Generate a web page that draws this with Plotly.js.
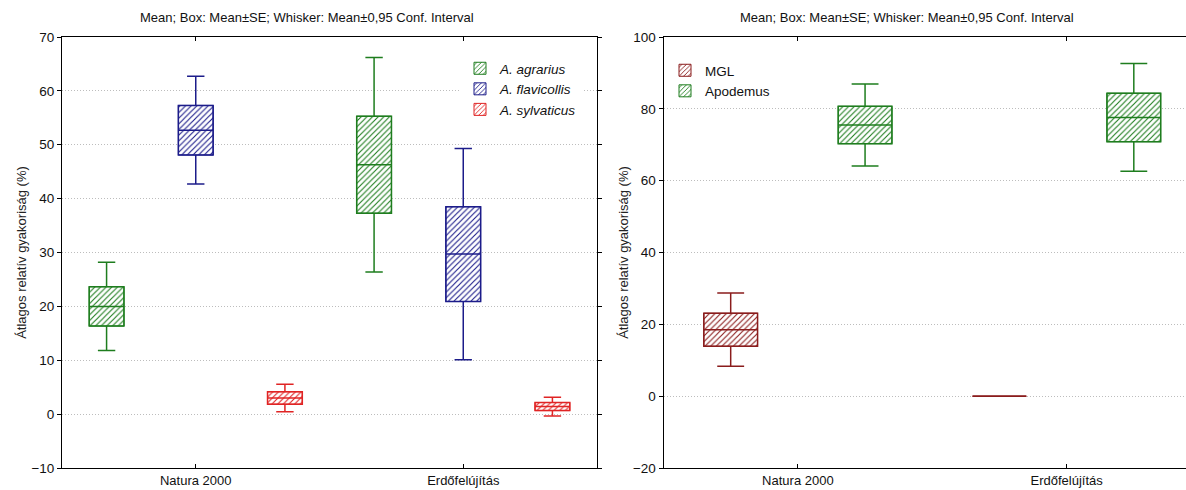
<!DOCTYPE html>
<html>
<head>
<meta charset="utf-8">
<script src="https://cdn.plot.ly/plotly-3.0.1.min.js"></script>
<style>
  html, body { margin: 0; padding: 0; overflow: hidden; background: #fff; }
  #chart { width: 1210px; height: 490px; }
</style>
</head>
<body>
<div id="chart"></div>
<script>
// Categories (sampling habitats)
const categories = ['Natura 2000', 'Erdőfelújítás'];

// Left panel: three Apodemus species — mean, standard error, 95% CI half-width
const agrariusName = '<i>A. agrarius</i>';
const agrariusMean = [20.0, 46.3];
const agrariusSE   = [3.65, 9.0];
const agrariusCI   = [8.2, 19.9];

const flavicollisName = '<i>A. flavicollis</i>';
const flavicollisMean = [52.7, 29.7];
const flavicollisSE   = [4.6, 8.8];
const flavicollisCI   = [10.0, 19.6];

const sylvaticusName = '<i>A. sylvaticus</i>';
const sylvaticusMean = [3.0, 1.4];
const sylvaticusSE   = [1.15, 0.75];
const sylvaticusCI   = [2.55, 1.75];

// Right panel: MGL vs Apodemus
const mglName = 'MGL';
const mglMean = [18.5, 0];
const mglSE   = [4.6, 0];
const mglCI   = [10.2, 0];

const apodemusName = 'Apodemus';
const apodemusMean = [75.5, 77.6];
const apodemusSE   = [5.2, 6.75];
const apodemusCI   = [11.4, 15.0];

const panelTitle = 'Mean; Box: Mean±SE; Whisker: Mean±0,95 Conf. Interval';
const yTitle = 'Átlagos relatív gyakoriság (%)';

const GREEN = '#1e7d1e';
const NAVY  = '#1c1c8a';
const RED   = '#e02424';
const MAROON = '#8a1c1c';
const FONT = 'Liberation Sans, Arial, sans-serif';

// Builds a hatched box (bar) plus whiskers/mean line (box) for one series
function seriesTraces(name, mean, se, ci, color, offset, width, xa, ya, legendId) {
  const x = categories.map((_, i) => i + offset);
  const q1 = mean.map((m, i) => m - se[i]);
  const q3 = mean.map((m, i) => m + se[i]);
  const lo = mean.map((m, i) => m - ci[i]);
  const hi = mean.map((m, i) => m + ci[i]);
  const bar = {
    type: 'bar', name: name, x: x, base: q1, y: q3.map((v, i) => v - q1[i]),
    width: width, xaxis: xa, yaxis: ya, legend: legendId,
    marker: {
      color: '#ffffff',
      pattern: { shape: '/', fgcolor: color, bgcolor: '#ffffff', size: 4, solidity: 0.28, fillmode: 'replace' },
      line: { color: color, width: 1 }
    },
    hoverinfo: 'skip'
  };
  const box = {
    type: 'box', name: name, x: x, q1: q1, median: mean, q3: q3,
    lowerfence: lo, upperfence: hi, width: width, whiskerwidth: 0.5,
    boxpoints: false, fillcolor: 'rgba(0,0,0,0)',
    line: { color: color, width: 1.5 },
    xaxis: xa, yaxis: ya, showlegend: false, hoverinfo: 'skip'
  };
  return [bar, box];
}

const W = 1210;
const data = [].concat(
  seriesTraces(agrariusName, agrariusMean, agrariusSE, agrariusCI, GREEN, -1/3, 0.13, 'x', 'y', 'legend'),
  seriesTraces(flavicollisName, flavicollisMean, flavicollisSE, flavicollisCI, NAVY, 0, 0.13, 'x', 'y', 'legend'),
  seriesTraces(sylvaticusName, sylvaticusMean, sylvaticusSE, sylvaticusCI, RED, 1/3, 0.13, 'x', 'y', 'legend'),
  seriesTraces(mglName, mglMean, mglSE, mglCI, MAROON, -0.25, 0.2, 'x2', 'y2', 'legend2'),
  seriesTraces(apodemusName, apodemusMean, apodemusSE, apodemusCI, GREEN, 0.25, 0.2, 'x2', 'y2', 'legend2')
);

function xAxis(domain, anchor) {
  return {
    domain: domain, anchor: anchor, range: [-0.5, 1.5],
    tickmode: 'array', tickvals: [0, 1], ticktext: categories,
    ticks: 'inside', ticklen: 4, tickcolor: '#000', showgrid: false, zeroline: false,
    showline: true, linecolor: '#000', linewidth: 1, mirror: 'ticks',
    tickfont: { family: FONT, size: 13, color: '#111' }, automargin: false, fixedrange: true
  };
}
function yAxis(range, dtick, anchor) {
  return {
    anchor: anchor, range: range, dtick: dtick, tick0: 0,
    ticks: 'outside', ticklen: 4, tickcolor: '#000',
    showgrid: true, gridcolor: '#bdbdbd', griddash: '1px,2px', gridwidth: 1, zeroline: false,
    showline: true, linecolor: '#000', linewidth: 1, mirror: 'ticks',
    tickfont: { family: FONT, size: 13.5, color: '#111' },
    title: { text: yTitle, font: { family: FONT, size: 13, color: '#222' } },
    automargin: false, fixedrange: true
  };
}

const plotTop = 37, plotH = 431;
const titleY = 1 + (plotTop - 18) / plotH;

const layout = {
  width: W, height: 490,
  margin: { l: 0, r: 0, t: plotTop, b: 490 - plotTop - plotH },
  paper_bgcolor: '#fff', plot_bgcolor: '#fff',
  barmode: 'overlay', boxmode: 'overlay',
  font: { family: FONT, color: '#111' },
  xaxis: xAxis([62 / W, 597 / W], 'y'),
  yaxis: yAxis([-10, 70], 10, 'x'),
  xaxis2: xAxis([663.5 / W, 1201 / W], 'y2'),
  yaxis2: yAxis([-20, 100], 20, 'x2'),
  legend: {
    x: 460 / W, y: 1 - (53 - plotTop) / plotH, xanchor: 'left', yanchor: 'top',
    bgcolor: '#fff', borderwidth: 0, font: { family: FONT, size: 13.5, color: '#111' },
    tracegroupgap: 0, itemclick: false
  },
  legend2: {
    x: 665 / W, y: 1 - (55 - plotTop) / plotH, xanchor: 'left', yanchor: 'top',
    bgcolor: '#fff', borderwidth: 0, font: { family: FONT, size: 13.5, color: '#111' },
    tracegroupgap: 0, itemclick: false
  },
  annotations: [
    { text: panelTitle, xref: 'paper', yref: 'paper', x: 307 / W, y: titleY, showarrow: false,
      xanchor: 'center', yanchor: 'middle', font: { family: FONT, size: 13, color: '#111' } },
    { text: panelTitle, xref: 'paper', yref: 'paper', x: 907 / W, y: titleY, showarrow: false,
      xanchor: 'center', yanchor: 'middle', font: { family: FONT, size: 13, color: '#111' } }
  ]
};

Plotly.newPlot('chart', data, layout, { displayModeBar: false, staticPlot: true });
</script>
</body>
</html>
